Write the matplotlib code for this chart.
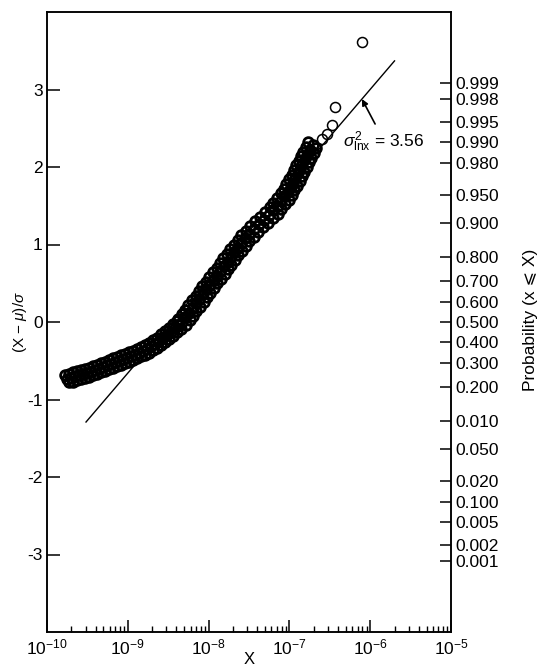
import numpy as np
import matplotlib
matplotlib.use("Agg")
import matplotlib.pyplot as plt
from matplotlib.ticker import LogLocator, NullFormatter

plt.rcParams['font.family'] = ['Liberation Sans', 'DejaVu Sans']
plt.rcParams['mathtext.fontset'] = 'custom'
plt.rcParams['mathtext.rm'] = 'Liberation Sans'
plt.rcParams['mathtext.it'] = 'Liberation Sans:italic'
plt.rcParams['mathtext.sf'] = 'Liberation Sans'
plt.rcParams['axes.unicode_minus'] = False

# Observed values: log10 of X and standardized score (X - mu)/sigma
log10_x = [
    # lower, flatter part of the sample
    -9.777, -9.728, -9.728, -9.678, -9.678, -9.629, -9.629, -9.579, -9.579, -9.530,
    -9.530, -9.480, -9.480, -9.431, -9.431, -9.381, -9.381, -9.332, -9.332, -9.282,
    -9.282, -9.233, -9.233, -9.183, -9.183, -9.134, -9.134, -9.084, -9.084, -9.035,
    -9.035, -8.985, -8.985, -8.936, -8.936, -8.886, -8.886, -8.837, -8.837, -8.787,
    -8.787, -8.738, -8.738, -8.688, -8.688, -8.639, -8.639, -8.589, -8.589, -8.540,
    -8.540, -8.490, -8.490, -8.441, -8.441, -8.391, -8.391, -8.342,
    -9.752, -9.703, -9.653, -9.604, -9.554, -9.505, -9.455, -9.406, -9.356, -9.307,
    -9.257, -9.208, -9.158, -9.109, -9.059, -9.010, -8.960, -8.911, -8.861, -8.812,
    -8.762, -8.713, -8.663, -8.614, -8.564, -8.515, -8.465, -8.416, -8.366,
    # steeper upper part
    -8.379, -8.280, -8.335, -8.236, -8.292, -8.193, -8.249, -8.150, -8.206, -8.107,
    -8.162, -8.063, -8.119, -8.020, -8.076, -7.977, -8.032, -7.933, -7.989, -7.890,
    -7.946, -7.847, -7.902, -7.803, -7.859, -7.760, -7.816, -7.717, -7.772, -7.673,
    -7.729, -7.630, -7.686, -7.587, -7.642, -7.543, -7.599, -7.500, -7.543, -7.444,
    -7.488, -7.389, -7.426, -7.327, -7.364, -7.265, -7.302, -7.203, -7.246, -7.147,
    -7.197, -7.098, -7.154, -7.055, -7.110, -7.011, -7.067, -6.968, -7.036, -6.937,
    -7.005, -6.906, -6.974, -6.875, -6.943, -6.844, -6.918, -6.819, -6.887, -6.788,
    -6.857, -6.758, -6.826, -6.727, -6.795, -6.696, -6.764, -6.665,
    -8.329, -8.286, -8.243, -8.199, -8.156, -8.113, -8.069, -8.026, -7.983, -7.939,
    -7.896, -7.853, -7.809, -7.766, -7.723, -7.680, -7.636, -7.593, -7.550, -7.494,
    -7.438, -7.376, -7.314, -7.253, -7.197, -7.147, -7.104, -7.061, -7.017, -6.986,
    -6.956, -6.925, -6.894, -6.869, -6.838, -6.807, -6.776, -6.745, -6.714,
]
z_score = [
    -0.680, -0.780, -0.670, -0.770, -0.650, -0.750, -0.635, -0.735, -0.620, -0.720,
    -0.605, -0.705, -0.590, -0.690, -0.570, -0.670, -0.550, -0.650, -0.530, -0.630,
    -0.510, -0.610, -0.490, -0.590, -0.470, -0.570, -0.450, -0.550, -0.430, -0.530,
    -0.410, -0.510, -0.390, -0.490, -0.370, -0.470, -0.345, -0.445, -0.320, -0.420,
    -0.295, -0.395, -0.265, -0.365, -0.235, -0.335, -0.200, -0.300, -0.160, -0.260,
    -0.120, -0.220, -0.075, -0.175, -0.030, -0.130, 0.015, -0.085,
    -0.730, -0.720, -0.700, -0.685, -0.670, -0.655, -0.640, -0.620, -0.600, -0.580,
    -0.560, -0.540, -0.520, -0.500, -0.480, -0.460, -0.440, -0.420, -0.395, -0.370,
    -0.345, -0.315, -0.285, -0.250, -0.210, -0.170, -0.125, -0.080, -0.035,
    0.04, -0.04, 0.10, 0.02, 0.16, 0.08, 0.22, 0.14, 0.28, 0.20,
    0.34, 0.26, 0.40, 0.32, 0.46, 0.38, 0.52, 0.44, 0.58, 0.50,
    0.64, 0.56, 0.70, 0.62, 0.76, 0.68, 0.82, 0.74, 0.88, 0.80,
    0.94, 0.86, 1.00, 0.92, 1.06, 0.98, 1.12, 1.04, 1.18, 1.10,
    1.24, 1.16, 1.30, 1.22, 1.36, 1.28, 1.42, 1.34, 1.48, 1.40,
    1.54, 1.46, 1.60, 1.52, 1.66, 1.58, 1.72, 1.64, 1.78, 1.70,
    1.84, 1.76, 1.90, 1.82, 1.96, 1.88, 2.02, 1.94, 2.08, 2.00,
    2.14, 2.06, 2.20, 2.12, 2.26, 2.18, 2.32, 2.24,
    0.00, 0.06, 0.12, 0.18, 0.24, 0.30, 0.36, 0.42, 0.48, 0.54,
    0.60, 0.66, 0.72, 0.78, 0.84, 0.90, 0.96, 1.02, 1.08, 1.14,
    1.20, 1.26, 1.32, 1.38, 1.44, 1.50, 1.56, 1.62, 1.68, 1.74,
    1.80, 1.86, 1.92, 1.98, 2.04, 2.10, 2.16, 2.22, 2.28,
]

# The few largest, well separated values
top_log10_x = [-6.600, -6.535, -6.470, -6.430, -6.100]
top_z_score = [2.36, 2.43, 2.54, 2.77, 3.61]

# Lognormal fit
sigma2_lnx = 3.56
median_x = 3.47e-9
fit_x = [3.04e-10, 2.0e-6]

# Probability scale on the right
prob_labels = ['0.999', '0.998', '0.995', '0.990', '0.980', '0.950', '0.900',
               '0.800', '0.700', '0.600', '0.500', '0.400', '0.300', '0.200',
               '0.010', '0.050', '0.020', '0.100', '0.005', '0.002', '0.001']
prob_z = [3.090, 2.878, 2.576, 2.326, 2.054, 1.645, 1.282,
          0.842, 0.524, 0.253, 0.0, -0.253, -0.524, -0.842,
          -1.282, -1.645, -2.054, -2.326, -2.576, -2.878, -3.090]

W, H = 545, 667
fig = plt.figure(figsize=(W / 100, H / 100), dpi=100)
ax = fig.add_axes([47 / W, 1 - 632 / H, (451 - 47) / W, (632 - 12) / H])

fx = np.array(fit_x)
fz = np.log(fx / median_x) / np.sqrt(sigma2_lnx)
ax.plot(fx, fz, color='black', lw=1.0, zorder=2)

# dense body of the sample: heavily overlapping open circles
ax.plot(10.0 ** np.array(log10_x), z_score, linestyle='none', marker='o',
        ms=7.0, mfc='none', mec='black', mew=2.0, zorder=3)
# leftmost circles drawn lighter so they read as individual rings
ax.plot(10.0 ** np.array(log10_x[:2]), z_score[:2], linestyle='none',
        marker='o', ms=7.0, mfc='none', mec='black', mew=1.0, zorder=3)
ax.plot(10.0 ** np.array(top_log10_x), top_z_score, linestyle='none',
        marker='o', ms=7.2, mfc='none', mec='black', mew=1.1, zorder=3)

ax.set_xscale('log')
ax.set_xlim(1e-10, 1e-5)
ax.set_ylim(-4, 4)
ax.set_yticks([-3, -2, -1, 0, 1, 2, 3])
ax.set_yticklabels(['-3', '-2', '-1', '0', '1', '2', '3'])
ax.xaxis.set_major_locator(LogLocator(base=10, numticks=10))
ax.xaxis.set_minor_locator(LogLocator(base=10, subs=np.arange(2, 10), numticks=10))
ax.xaxis.set_minor_formatter(NullFormatter())

for s in ax.spines.values():
    s.set_linewidth(1.1)
ax.tick_params(axis='y', which='major', direction='in', length=9, width=1.1,
               labelsize=12.5, pad=3)
ax.tick_params(axis='x', which='major', direction='in', length=8.5, width=1.1,
               labelsize=12.5, pad=4)
ax.tick_params(axis='x', which='minor', direction='in', length=4.5, width=1.0)
ax.tick_params(right=False, top=False)

ax.set_xlabel('X', fontsize=12, labelpad=-4)
ax.set_ylabel(r'(X $-$ $\mu$)/$\sigma$', fontsize=11, labelpad=-1)

ax2 = ax.twinx()
ax2.set_ylim(-4, 4)
ax2.set_yticks(prob_z)
ax2.set_yticklabels(prob_labels)
ax2.tick_params(axis='y', direction='in', length=8, width=1.1, labelsize=12.5, pad=3)
for s in ax2.spines.values():
    s.set_linewidth(1.1)

fig.text(531 / W, 1 - 320 / H, 'Probability (x \u2a7d X)', rotation=90,
         ha='center', va='center', fontsize=12.5)

ax.text(4.6e-7, 2.33, r'$\sigma^2_{\mathrm{lnx}}$ = 3.56', fontsize=12.5,
        ha='left', va='center')
ax.annotate('', xy=(7.9e-7, 2.877), xytext=(1.15e-6, 2.555),
            arrowprops=dict(arrowstyle='-|>', color='black', lw=1.2,
                            mutation_scale=9, shrinkA=0, shrinkB=0))

fig.savefig('out.png', dpi=100)
